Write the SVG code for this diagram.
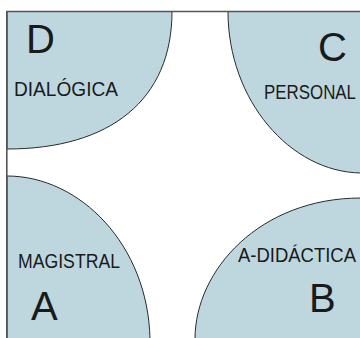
<svg xmlns="http://www.w3.org/2000/svg" width="360" height="338" viewBox="0 0 360 338">
<style>
.zone{fill:#bed7df;stroke:#2a2a2a;stroke-width:1}
.frame{fill:none;stroke:#555;stroke-width:1.6}
.big{font-family:"Liberation Sans",Arial,sans-serif;font-size:40px;fill:#1a1a1a}
.lbl{font-family:"Liberation Sans",Arial,sans-serif;font-size:20px;fill:#1a1a1a}
</style>
<rect width="360" height="338" fill="#ffffff"/>
<g id="node-D">
<path class="zone" d="M172,11.5 C172,100 110,149 7,149 L7,11.5 Z"/>
<text class="big" x="26" y="53">D</text>
<text class="lbl" x="14" y="96" textLength="104" lengthAdjust="spacingAndGlyphs">DIALÓGICA</text>
</g>
<g id="node-C">
<path class="zone" d="M228,11.5 C228,100 290,172 361,173 L361,11.5 Z"/>
<text class="big" x="318" y="61">C</text>
<text class="lbl" x="264" y="99" textLength="92" lengthAdjust="spacingAndGlyphs">PERSONAL</text>
</g>
<g id="node-A">
<path class="zone" d="M7,176 C80,176 148,245 150,339 L7,339 Z"/>
<text class="lbl" x="18" y="268" textLength="102" lengthAdjust="spacingAndGlyphs">MAGISTRAL</text>
<text class="big" x="31" y="320">A</text>
</g>
<g id="node-B">
<path class="zone" d="M361,198 C260,198 195,270 195,339 L361,339 Z"/>
<text class="lbl" x="238" y="262" textLength="118" lengthAdjust="spacingAndGlyphs">A-DIDÁCTICA</text>
<text class="big" x="309" y="312">B</text>
</g>
<g id="connectors">
<path class="frame" d="M6.8,339 L6.8,11.5 L361,11.5"/>
</g>
</svg>
